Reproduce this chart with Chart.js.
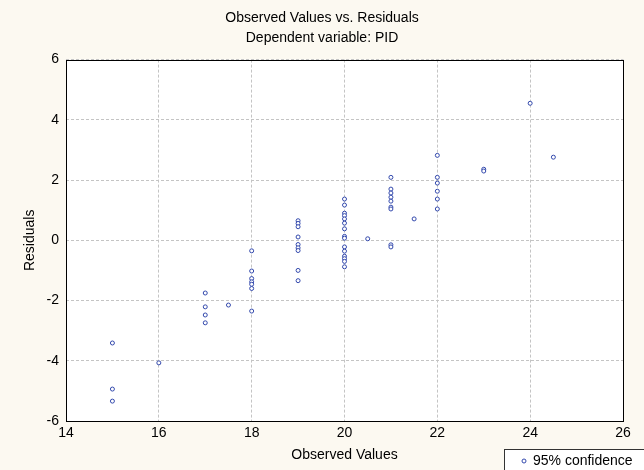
<!DOCTYPE html>
<html>
<head>
<meta charset="utf-8">
<script src="https://cdn.jsdelivr.net/npm/chart.js@4"></script>
<style>
  html, body { margin: 0; padding: 0; background: #fcf9f1; }
  #wrap { width: 644px; height: 470px; }
</style>
</head>
<body>
<div id="wrap"><canvas id="chart"></canvas></div>
<script>
const observed = [
    15, 15, 15,
    16,
    17, 17, 17, 17,
    17.5,
    18, 18, 18, 18, 18, 18, 18,
    19, 19, 19, 19, 19, 19, 19, 19, 19,
    20, 20, 20, 20, 20, 20, 20, 20, 20, 20, 20, 20, 20, 20, 20,
    20.5,
    21, 21, 21, 21, 21, 21, 21, 21, 21,
    21.5,
    22, 22, 22, 22, 22, 22,
    23, 23,
    24,
    24.5,
];
const residuals = [
    -3.41, -4.94, -5.34,
    -4.07,
    -1.75, -2.21, -2.48, -2.74,
    -2.15,
    -0.35, -1.02, -1.27, -1.38, -1.46, -1.6, -2.35,
    0.65, 0.56, 0.45, 0.11, -0.14, -0.25, -0.34, -1.0, -1.34,
    1.37, 1.17, 0.9, 0.82, 0.71, 0.57, 0.38, 0.13, 0.07, -0.22, -0.36, -0.53, -0.61, -0.7, -0.88,
    0.05,
    2.09, 1.7, 1.57, 1.43, 1.3, 1.1, 1.04, -0.15, -0.22,
    0.71,
    2.82, 2.09, 1.9, 1.63, 1.37, 1.04,
    2.36, 2.3,
    4.55,
    2.76,
];
const xTicks = [14, 16, 18, 20, 22, 24, 26];
const yTicks = [-6, -4, -2, 0, 2, 4, 6];
const legendLabel = '95% confidence';

const font = { family: 'Arial, "Liberation Sans", sans-serif', size: 14 };
const pointColor = '#3349ad';

const points = observed.map((x, i) => ({ x: x, y: residuals[i] }));

const frame = {
    id: 'frame',
    beforeDraw(chart) {
        const { ctx, chartArea: a } = chart;
        ctx.save();
        ctx.fillStyle = '#fcf9f1';
        ctx.fillRect(0, 0, chart.width, chart.height);
        ctx.fillStyle = '#ffffff';
        ctx.fillRect(a.left, a.top, a.right - a.left, a.bottom - a.top);
        ctx.restore();
    },
    afterDraw(chart) {
        const { ctx, chartArea: a } = chart;
        ctx.save();
        ctx.strokeStyle = '#000';
        ctx.lineWidth = 1;
        ctx.strokeRect(Math.round(a.left) + 0.5, Math.round(a.top) + 0.5,
            Math.round(a.right - a.left), Math.round(a.bottom - a.top));

        // legend box, bottom right (cut by the canvas edge like the original)
        const bx = 504.5, by = 449.5, bw = 140, bh = 24;
        ctx.fillStyle = '#ffffff';
        ctx.fillRect(bx, by, bw, bh);
        ctx.strokeStyle = '#333';
        ctx.strokeRect(bx, by, bw, bh);
        ctx.strokeStyle = pointColor;
        ctx.beginPath();
        ctx.arc(524, 461, 2, 0, Math.PI * 2);
        ctx.stroke();
        ctx.fillStyle = '#000';
        ctx.font = '14px ' + font.family;
        ctx.textBaseline = 'middle';
        ctx.fillText(legendLabel, 533, 461);
        ctx.restore();
    },
};

new Chart(document.getElementById('chart'), {
    type: 'scatter',
    data: {
        datasets: [
            {
                label: legendLabel,
                data: points,
                pointStyle: 'circle',
                pointRadius: 2,
                pointBorderWidth: 1,
                pointBorderColor: pointColor,
                pointBackgroundColor: '#ffffff',
                showLine: false,
            },
        ],
    },
    options: {
        responsive: true,
        maintainAspectRatio: false,
        animation: false,
        layout: { padding: 0 },
        plugins: {
            legend: { display: false },
            tooltip: { enabled: false },
            title: {
                display: true,
                text: 'Observed Values vs. Residuals',
                color: '#000',
                font: { ...font, weight: 'normal' },
                padding: { top: 10, bottom: 3 },
            },
            subtitle: {
                display: true,
                text: 'Dependent variable: PID',
                color: '#000',
                font: font,
                padding: { top: 0, bottom: 13 },
            },
        },
        scales: {
            x: {
                type: 'linear',
                min: 14,
                max: 26,
                afterBuildTicks: (s) => { s.ticks = xTicks.map((v) => ({ value: v })); },
                afterFit: (s) => { s.height = 49; },
                ticks: { color: '#000', font: font, padding: 4, maxRotation: 0 },
                grid: { color: '#c4c4c4', drawTicks: false },
                border: { display: false, dash: [3, 2] },
                title: {
                    display: true,
                    text: 'Observed Values',
                    color: '#000',
                    font: font,
                    padding: { top: 0, bottom: 6 },
                },
            },
            y: {
                type: 'linear',
                min: -6,
                max: 6,
                afterBuildTicks: (s) => { s.ticks = yTicks.map((v) => ({ value: v })); },
                afterFit: (s) => { s.width = 66; },
                ticks: { color: '#000', font: font, padding: 7 },
                grid: { color: '#c4c4c4', drawTicks: false },
                border: { display: false, dash: [3, 2] },
                title: {
                    display: true,
                    text: 'Residuals',
                    color: '#000',
                    font: font,
                    padding: { top: 22, bottom: 0 },
                },
            },
            // empty strip on the right so the titles stay centred on the page
            side: {
                type: 'linear',
                position: 'right',
                display: true,
                afterFit: (s) => { s.width = 21; },
                ticks: { display: false },
                grid: { display: false },
                border: { display: false },
            },
        },
    },
    plugins: [frame],
});
</script>
</body>
</html>
